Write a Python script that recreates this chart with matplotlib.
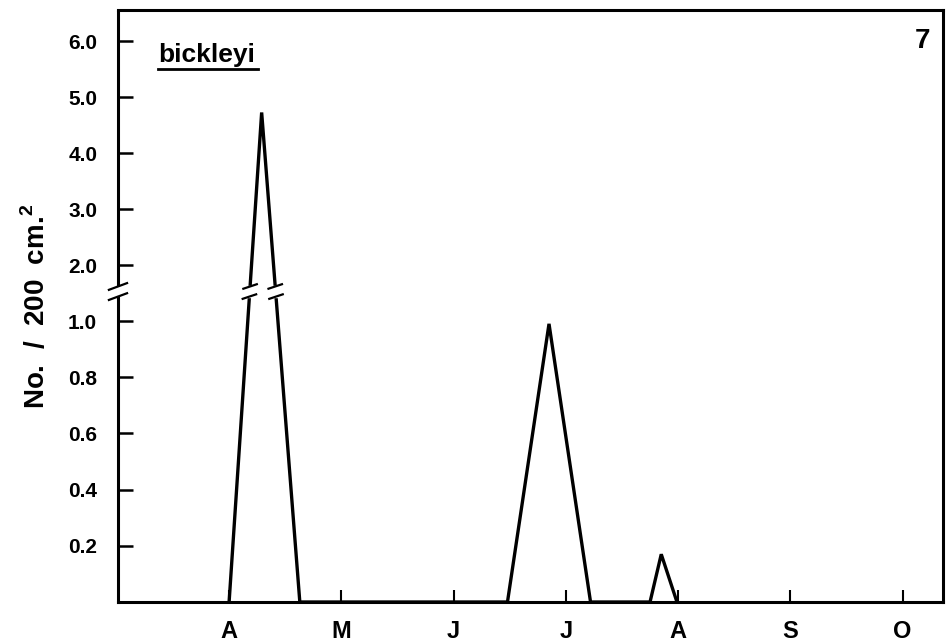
"""Seasonal density of bickleyi with a broken y axis."""
import matplotlib
matplotlib.use("Agg")
import matplotlib.pyplot as plt
import numpy as np

plt.rcParams["font.family"] = ["Liberation Sans", "DejaVu Sans"]
plt.rcParams["font.weight"] = "bold"
plt.rcParams["mathtext.fontset"] = "custom"
plt.rcParams["mathtext.rm"] = "Liberation Sans:bold"
plt.rcParams["mathtext.bf"] = "Liberation Sans:bold"

# months from April (0) to October (6)
month_labels = ["A", "M", "J", "J", "A", "S", "O"]
sample_month = [0.0, 0.29, 0.63, 2.48, 2.85, 3.22, 3.75, 3.85, 3.99]
density = [0.0, 4.73, 0.0, 0.0, 0.99, 0.0, 0.0, 0.17, 0.0]
lower_ticks = [0.2, 0.4, 0.6, 0.8, 1.0]
upper_ticks = [2.0, 3.0, 4.0, 5.0, 6.0]

UPPER_SCALE = 0.199  # one unit above the break takes this much of a lower unit
BREAK_LO, BREAK_HI = 1.087, 1.123


def squash(v):
    v = np.asarray(v, dtype=float)
    return np.where(v <= 1.0, v, 1.0 + (v - 1.0) * UPPER_SCALE)


fig = plt.figure(figsize=(9.53, 6.44), dpi=100)
ax = fig.add_axes([0.1238, 0.0652, 0.8657, 0.9193])

x = np.array(sample_month)
y = squash(density)
ax.plot(x, y, color="black", lw=2.4, solid_joinstyle="miter", zorder=2)

ax.set_xlim(-0.99, 6.36)
ax.set_ylim(0, 2.107)

ticks = list(lower_ticks) + list(upper_ticks)
ax.set_yticks(squash(ticks))
ax.set_yticklabels([f"{t:.1f}" for t in ticks])
ax.set_xticks(range(len(month_labels)))
ax.set_xticklabels(month_labels)

ax.tick_params(axis="y", direction="in", length=11, width=1.8, pad=15,
               labelsize=15)
ax.tick_params(axis="x", direction="in", length=9, width=1.5, pad=13,
               labelsize=17)
for lab in ax.get_xticklabels() + ax.get_yticklabels():
    lab.set_fontweight("bold")

for side in ["top", "right", "bottom", "left"]:
    ax.spines[side].set_linewidth(2.2)
ax.spines["left"].set_bounds(0, BREAK_LO)
ax.plot([0, 0], [BREAK_HI, 2.107], color="black", lw=2.2,
        transform=ax.get_yaxis_transform(), clip_on=False, solid_capstyle="butt")

# break marks on the y axis
for yb in (BREAK_LO, BREAK_HI):
    ax.plot([-0.011, 0.011], [yb - 0.012, yb + 0.012], color="black", lw=1.6,
            transform=ax.get_yaxis_transform(), clip_on=False)

# cut the tall peak at the break
ax.fill_between([x[0] + 0.05, x[2] - 0.05], BREAK_LO, BREAK_HI, color="white",
                zorder=3)
for i in (0, 1):
    xs, ys = x[i:i + 2], y[i:i + 2]
    order = np.argsort(ys)
    for yb in (BREAK_LO, BREAK_HI):
        xb = np.interp(yb, ys[order], xs[order])
        ax.plot([xb - 0.06, xb + 0.06], [yb - 0.008, yb + 0.008],
                color="black", lw=1.6, zorder=4)

ax.set_ylabel("No.  /  200  cm.$^{2}$", fontsize=20, fontweight="bold",
              labelpad=12)

ax.text(0.0485, 0.912, "bickleyi", transform=ax.transAxes, fontsize=19,
        fontweight="bold")
ax.plot([0.0485, 0.1697], [0.900, 0.900], color="black", lw=2.0,
        transform=ax.transAxes)
ax.text(0.984, 0.936, "7", transform=ax.transAxes, fontsize=20,
        fontweight="bold", ha="right")

fig.savefig("out.png", dpi=100)
